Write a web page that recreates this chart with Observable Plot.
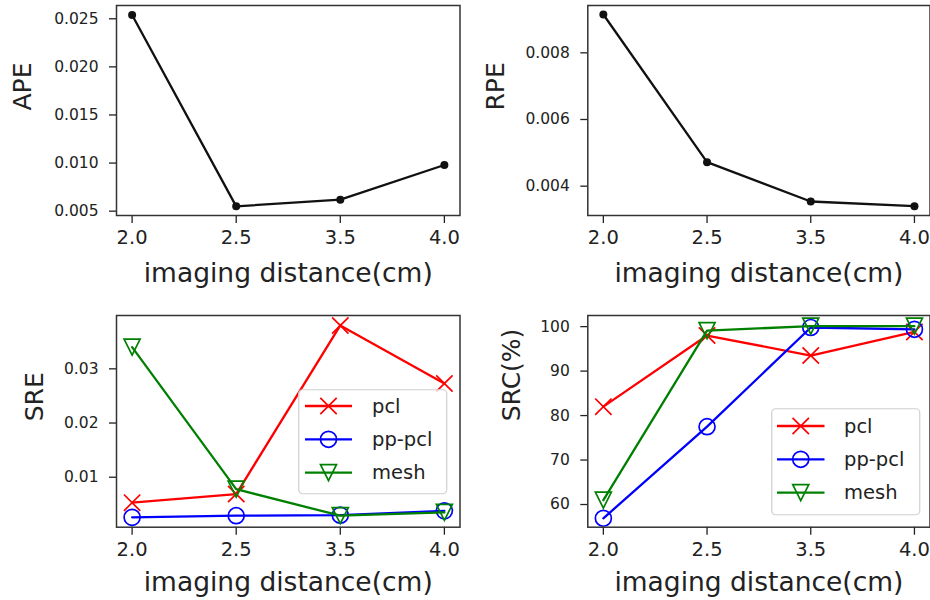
<!DOCTYPE html>
<html><head><meta charset="utf-8">
<script src="https://cdn.jsdelivr.net/npm/d3@7"></script>
<script src="https://cdn.jsdelivr.net/npm/@observablehq/plot@0.6"></script>
<style>
body{margin:0;background:#fff;}
#wrap{position:relative;width:930px;height:600px;overflow:hidden;font-family:"DejaVu Sans",sans-serif;background:#fff;}
.tile{position:absolute;}
.legend{position:absolute;overflow:visible;}
</style></head><body><div id="wrap"></div>
<script>
// ---- data ----
const distances = ["2.0", "2.5", "3.5", "4.0"];
const xLabel = "imaging distance(cm)";
const apeValues = [0.0254, 0.0055, 0.0062, 0.0098];
const rpeValues = [0.00915, 0.00472, 0.00354, 0.0034];
const srePcl = [0.0053, 0.0069, 0.0380, 0.0273];
const srePpPcl = [0.0026, 0.0029, 0.0030, 0.0038];
const sreMesh = [0.0340, 0.0078, 0.0029, 0.0035];
const srcPcl = [82.0, 98.0, 93.5, 98.8];
const srcPpPcl = [56.9, 77.5, 99.8, 99.4];
const srcMesh = [61.0, 99.1, 100.1, 100.1];
const seriesNames = ["pcl", "pp-pcl", "mesh"];
const apeTicks = [0.005, 0.010, 0.015, 0.020, 0.025];
const rpeTicks = [0.004, 0.006, 0.008];
const sreTicks = [0.01, 0.02, 0.03];
const srcTicks = [60, 70, 80, 90, 100];

// ---- styles ----
const seriesColors = ["#ff0000", "#0000ff", "#008000"];
const triangleDown = {draw(ctx, size) {const s = Math.sqrt(size / Math.PI); ctx.moveTo(0, s); ctx.lineTo(-s, -s); ctx.lineTo(s, -s); ctx.closePath();}};
const seriesSymbols = ["times", "circle", triangleDown];
const symbolR = [7.5, 8, 8];
const d3Symbols = [d3.symbolTimes, d3.symbolCircle, triangleDown];
const textColor = "#222";

const wrap = document.getElementById("wrap");

function toRows(values, name) {
  return values.map((v, i) => ({x: distances[i], y: v, s: name}));
}

function panel(cfg) {
  const marks = [];
  marks.push(Plot.axisX({tickSize: 8, tickPadding: 7, fontSize: 19.5, label: null, strokeWidth: 1.3, fill: textColor, stroke: textColor}));
  marks.push(Plot.axisY({ticks: cfg.yTicks, tickFormat: cfg.yFormat, tickSize: 7, tickPadding: 11, fontSize: 15.5, label: null, strokeWidth: 1.3, fill: textColor, stroke: textColor}));
  cfg.series.forEach((ser) => {
    marks.push(Plot.line(ser.rows, {x: "x", y: "y", stroke: ser.color, strokeWidth: 2.3, clip: true}));
    if (ser.symbol === "dot") {
      marks.push(Plot.dot(ser.rows, {x: "x", y: "y", r: 4, fill: ser.color, stroke: "none", clip: true}));
    } else {
      marks.push(Plot.dot(ser.rows, {x: "x", y: "y", r: ser.r, symbol: ser.symbol, fill: "none", stroke: ser.color, strokeWidth: 1.7, clip: true}));
    }
  });
  marks.push(Plot.frame({stroke: "#333", strokeWidth: 1.5}));
  marks.push(Plot.text([cfg.yLabel], {text: d => d, frameAnchor: "left", dx: cfg.yLabelDx, rotate: -90, fontSize: 25, fill: textColor}));
  marks.push(Plot.text([xLabel], {text: d => d, frameAnchor: "bottom", dy: cfg.xLabelDy, fontSize: 26.5, fill: textColor}));
  const p = Plot.plot({
    width: 465, height: 300,
    marginLeft: cfg.mL, marginRight: cfg.mR, marginTop: cfg.mT, marginBottom: cfg.mB,
    style: {fontFamily: "DejaVu Sans", background: "transparent", overflow: "visible"},
    x: {type: "point", domain: distances, padding: 0.15, round: false},
    y: {domain: cfg.yDomain},
    marks
  });
  p.classList.add("tile");
  p.style.left = cfg.left + "px";
  p.style.top = cfg.top + "px";
  wrap.appendChild(p);
}

function legend(cfg) {
  const svg = d3.select(wrap).append("svg").attr("class", "legend")
    .style("left", cfg.left + "px").style("top", cfg.top + "px")
    .attr("width", cfg.w + 2).attr("height", cfg.h + 2);
  svg.append("rect").attr("x", 0.75).attr("y", 0.75).attr("width", cfg.w).attr("height", cfg.h)
    .attr("rx", 4).attr("fill", "#fff").attr("fill-opacity", 0.8).attr("stroke", "#d0d0d0").attr("stroke-width", 1.2);
  seriesNames.forEach((name, i) => {
    const y = cfg.row0 + i * cfg.rowStep;
    svg.append("line").attr("x1", cfg.lx1).attr("x2", cfg.lx2).attr("y1", y).attr("y2", y)
      .attr("stroke", seriesColors[i]).attr("stroke-width", 2.3);
    svg.append("path").attr("transform", `translate(${(cfg.lx1 + cfg.lx2) / 2},${y})`)
      .attr("d", d3.symbol(d3Symbols[i], Math.PI * symbolR[i] * symbolR[i])())
      .attr("fill", "none").attr("stroke", seriesColors[i]).attr("stroke-width", 1.7);
    svg.append("text").attr("x", cfg.tx).attr("y", y).attr("dy", "0.35em")
      .attr("font-family", "DejaVu Sans").attr("font-size", 19.5).attr("fill", textColor).text(name);
  });
}

const fmt3 = d3.format(".3f"), fmt2 = d3.format(".2f"), fmt0 = d3.format("d");

panel({left: 0, top: 0, mL: 116, mR: 5.5, mT: 5, mB: 85, yDomain: [0.00455, 0.02638], yTicks: apeTicks, yFormat: fmt3,
  yLabel: "APE", yLabelDx: -94, xLabelDy: 66.5,
  series: [{rows: toRows(apeValues, "APE"), color: "#111", symbol: "dot"}]});
panel({left: 465, top: 0, mL: 122.3, mR: 0.5, mT: 5, mB: 85, yDomain: [0.00312, 0.00942], yTicks: rpeTicks, yFormat: fmt3,
  yLabel: "RPE", yLabelDx: -92, xLabelDy: 66.5,
  series: [{rows: toRows(rpeValues, "RPE"), color: "#111", symbol: "dot"}]});
panel({left: 0, top: 300, mL: 116, mR: 5.5, mT: 15, mB: 73.3, yDomain: [0.00078, 0.03984], yTicks: sreTicks, yFormat: fmt2,
  yLabel: "SRE", yLabelDx: -82, xLabelDy: 63.5,
  series: [srePcl, srePpPcl, sreMesh].map((v, i) => ({rows: toRows(v, seriesNames[i]), color: seriesColors[i], symbol: seriesSymbols[i], r: symbolR[i]}))});
panel({left: 465, top: 300, mL: 122.3, mR: 0.5, mT: 15, mB: 73.3, yDomain: [54.9, 102.5], yTicks: srcTicks, yFormat: fmt0,
  yLabel: "SRC(%)", yLabelDx: -76, xLabelDy: 63.5,
  series: [srcPcl, srcPpPcl, srcMesh].map((v, i) => ({rows: toRows(v, seriesNames[i]), color: seriesColors[i], symbol: seriesSymbols[i], r: symbolR[i]}))});

legend({left: 298, top: 389, w: 148, h: 104, row0: 17, rowStep: 33.3, lx1: 7, lx2: 54, tx: 74});
legend({left: 770.5, top: 408, w: 148, h: 106, row0: 18, rowStep: 33.3, lx1: 6, lx2: 53.5, tx: 73});
</script>
</body></html>
